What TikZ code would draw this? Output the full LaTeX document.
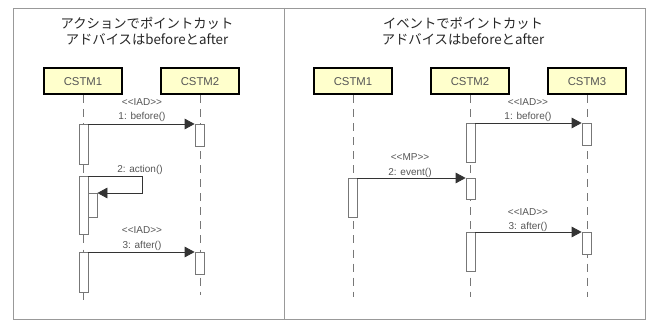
\documentclass[tikz,border=0pt]{standalone}
\usepackage{fontspec}
\setmainfont{Liberation Sans}
\newfontfamily\jpfont{Noto Sans CJK JP}
\usetikzlibrary{arrows.meta}
\newcommand\mylt{\mbox{<}\mbox{<}}
\newcommand\mygt{\mbox{>}\mbox{>}}
\definecolor{actorfill}{HTML}{FFFFCC}
\definecolor{labelgray}{HTML}{555555}
\definecolor{linegray}{HTML}{777777}
\definecolor{framegray}{HTML}{999999}
\tikzset{
  actor/.style={draw=black, line width=1.5pt, fill=actorfill, minimum width=78*0.75pt, minimum height=26*0.75pt, inner sep=0pt, text=labelgray, font=\fontsize{8.5pt}{10pt}\selectfont},
  actbar/.style={draw=linegray, line width=0.6pt, fill=white, minimum width=9*0.75pt, minimum height=#1*0.75pt, inner sep=0pt, anchor=north},
  lifeline/.style={draw=linegray, line width=0.6pt, dash pattern=on 6pt off 4.5pt},
  msg/.style={draw=black!80, line width=0.6pt, -{Triangle[length=7.5pt, width=8pt]}},
  lbl/.style={text=labelgray, font=\fontsize{7.5pt}{9pt}\selectfont, inner sep=0pt},
  ttl/.style={text=black!85, font=\jpfont\fontsize{10pt}{12pt}\selectfont, align=center, inner sep=0pt}
}
\begin{document}
\begin{tikzpicture}[x=0.75pt, y=-0.75pt]
\useasboundingbox (0,0) rectangle (649,320);
% frame
\draw[framegray, line width=0.7pt] (13,8) rectangle (645,319);
\draw[framegray, line width=0.7pt] (284,8) -- (284,319);

% ---------------- left panel ----------------
\node[ttl] (t1) at (147,31) {アクションでポイントカット\\アドバイスはbeforeとafter};
\node[actor] (a1) at (83,81.5) {CSTM1};
\node[actor] (a2) at (200,81.5) {CSTM2};
\coordinate (a1e) at (83,305);
\coordinate (a2e) at (200,295);
\draw[lifeline] (a1.south) -- (a1e);
\draw[lifeline] (a2.south) -- (a2e);

\node[actbar=40] (A1) at (83.5,124) {};
\node[actbar=58] (A2) at (83.5,176) {};
\node[actbar=24] (A2n) at (92.5,193) {};
\node[actbar=40] (A3) at (83.5,252) {};
\node[actbar=22] (B1) at (199.5,124) {};
\node[actbar=22] (B3) at (199.5,252) {};

\node[lbl] (l1s) at (142,102) {\mylt IAD\mygt};
\node[lbl] (l1m) at (142,117) {1: before()};
\draw[msg] (A1.north east) -- (B1.north west);

\node[lbl] (l2m) at (140,170) {2: action()};
\coordinate (s1) at (142,176);
\coordinate (s2) at (142,193);
\draw[msg] (A2.north east) -- (s1) -- (s2) -- (A2n.north east);

\node[lbl] (l3s) at (142,230) {\mylt IAD\mygt};
\node[lbl] (l3m) at (142,246) {3: after()};
\draw[msg] (A3.north east) -- (B3.north west);

% ---------------- right panel ----------------
\node[ttl] (t2) at (463,31) {イベントでポイントカット\\アドバイスはbeforeとafter};
\node[actor] (r1) at (353,81.5) {CSTM1};
\node[actor] (r2) at (470,81.5) {CSTM2};
\node[actor] (r3) at (587,81.5) {CSTM3};
\coordinate (r1e) at (353,297);
\coordinate (r2e) at (470,297);
\coordinate (r3e) at (587,297);
\draw[lifeline] (r1.south) -- (r1e);
\draw[lifeline] (r2.south) -- (r2e);
\draw[lifeline] (r3.south) -- (r3e);

\node[actbar=39] (C2) at (470.5,123) {};
\node[actbar=22] (C3) at (586.5,123) {};
\node[actbar=39] (D1) at (352.5,178) {};
\node[actbar=21] (D2) at (470.5,178) {};
\node[actbar=39] (E2) at (470.5,232) {};
\node[actbar=22] (E3) at (586.5,232) {};

\node[lbl] (m1s) at (528,102) {\mylt IAD\mygt};
\node[lbl] (m1m) at (528,117) {1: before()};
\draw[msg] (C2.north east) -- (C3.north west);

\node[lbl] (m2s) at (410,157) {\mylt MP\mygt};
\node[lbl] (m2m) at (410,173) {2: event()};
\draw[msg] (D1.north east) -- (D2.north west);

\node[lbl] (m3s) at (528,212) {\mylt IAD\mygt};
\node[lbl] (m3m) at (528,227) {3: after()};
\draw[msg] (E2.north east) -- (E3.north west);
\end{tikzpicture}
\end{document}
